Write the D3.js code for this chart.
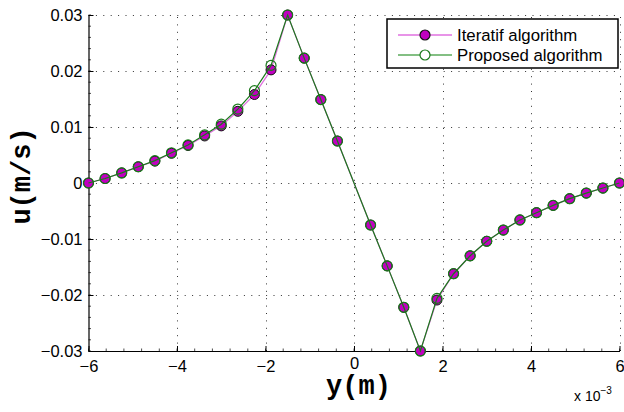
<!DOCTYPE html>
<html>
<head>
<meta charset="utf-8">
<script src="https://cdn.jsdelivr.net/npm/d3@7"></script>
<style>
  body { margin: 0; background: #fff; }
  svg { display: block; }
</style>
</head>
<body>
<svg id="chart" width="624" height="412"></svg>
<script>
// Position across the channel, in units of 1e-3 m
const yPositions = [-6, -5.625, -5.25, -4.875, -4.5, -4.125, -3.75, -3.375, -3, -2.625, -2.25, -1.875,
  -1.5, -1.125, -0.75, -0.375, 0.375, 0.75, 1.125, 1.5, 1.875, 2.25, 2.625, 3, 3.375, 3.75,
  4.125, 4.5, 4.875, 5.25, 5.625, 6];

// Velocity u (m/s) from the iterative solver
const iteratifU = [0, 0.0008, 0.0018, 0.0029, 0.0039, 0.0053, 0.0067, 0.0084, 0.0102, 0.0128, 0.0158, 0.0202,
  0.0300, 0.0223, 0.0149, 0.0075, -0.0075, -0.0148, -0.0222, -0.0300, -0.0209, -0.0162, -0.0130, -0.0104,
  -0.0084, -0.0066, -0.0053, -0.0040, -0.0028, -0.0018, -0.0009, 0];

// Velocity u (m/s) from the proposed solver
const proposedU = [0, 0.0008, 0.0018, 0.0029, 0.0040, 0.0054, 0.0068, 0.0086, 0.0105, 0.0132, 0.0165, 0.0210,
  0.0300, 0.0223, 0.0149, 0.0075, -0.0075, -0.0148, -0.0222, -0.0300, -0.0206, -0.0162, -0.0130, -0.0104,
  -0.0084, -0.0066, -0.0053, -0.0040, -0.0028, -0.0018, -0.0009, 0];

const xTicks = [-6, -4, -2, 0, 2, 4, 6];
const yTicks = [-0.03, -0.02, -0.01, 0, 0.01, 0.02, 0.03];
const seriesNames = ["Iteratif algorithm", "Proposed algorithm"];

const svg = d3.select("#chart");
const plotL = 88.5, plotR = 619.5, plotT = 15, plotB = 351;

const x = d3.scaleLinear().domain([-6, 6]).range([plotL, plotR]);
const y = d3.scaleLinear().domain([-0.03, 0.03]).range([plotB, plotT]);

const fmtY = d => d === 0 ? "0" : d3.format(".2f")(d).replace("-", "\u2212");
const fmtX = d => String(d).replace("-", "\u2212");
const sans = "Liberation Sans, Arial, sans-serif";
const mono = "Liberation Mono, Courier New, monospace";

// dotted grid
const grid = svg.append("g").attr("stroke", "#333").attr("stroke-width", 1)
  .attr("stroke-dasharray", "1,6.4");
grid.selectAll("line.v").data(xTicks.slice(1)).join("line")
  .attr("x1", d => Math.round(x(d)) + 0.5).attr("x2", d => Math.round(x(d)) + 0.5)
  .attr("y1", plotB).attr("y2", plotT);
grid.selectAll("line.h").data(yTicks).join("line")
  .attr("y1", d => Math.round(y(d)) + 0.5).attr("y2", d => Math.round(y(d)) + 0.5)
  .attr("x1", plotL).attr("x2", plotR);

// axes (left and bottom only)
const xAxis = d3.axisBottom(x).tickValues(xTicks).tickSizeInner(-5).tickSizeOuter(0).tickPadding(9).tickFormat(fmtX);
const yAxis = d3.axisLeft(y).tickValues(yTicks).tickSizeInner(-5).tickSizeOuter(0).tickPadding(6).tickFormat(fmtY);

const gx = svg.append("g").attr("transform", `translate(0,${plotB})`).call(xAxis);
const gy = svg.append("g").attr("transform", `translate(${plotL},0)`).call(yAxis);
[gx, gy].forEach(g => {
  g.select(".domain").attr("stroke", "#000").attr("stroke-width", 1.2);
  g.selectAll(".tick line").attr("stroke", "#000");
  g.selectAll(".tick text").attr("fill", "#000")
    .style("font-family", sans).style("font-size", "16.5px");
});
// the centre label sits a little higher, clear of the axis title
gx.selectAll(".tick").filter(d => d === 0).select("text").attr("y", 6.5);

// minor ticks
const minor = svg.append("g").attr("stroke", "#000").attr("stroke-width", 0.7);
minor.selectAll("line.mx").data(d3.range(-6, 6.001, 0.4)).join("line")
  .attr("x1", d => x(d)).attr("x2", d => x(d)).attr("y1", plotB).attr("y2", plotB - 2.5);
minor.selectAll("line.my").data(d3.range(-0.03, 0.03001, 0.002)).join("line")
  .attr("y1", d => y(d)).attr("y2", d => y(d)).attr("x1", plotL).attr("x2", plotL + 2.5);

const iterPts = yPositions.map((p, i) => [p, iteratifU[i]]);
const propPts = yPositions.map((p, i) => [p, proposedU[i]]);
const line = d3.line().x(d => x(d[0])).y(d => y(d[1]));

const magentaLine = "#e070e0", magentaFill = "#c000c0", green = "#1a7a1a";

svg.append("path").datum(iterPts).attr("d", line)
  .attr("fill", "none").attr("stroke", magentaLine).attr("stroke-width", 1.2);
svg.append("g").selectAll("circle").data(iterPts).join("circle")
  .attr("cx", d => x(d[0])).attr("cy", d => y(d[1])).attr("r", 5)
  .attr("fill", magentaFill).attr("stroke", "#111").attr("stroke-width", 1);

svg.append("path").datum(propPts).attr("d", line)
  .attr("fill", "none").attr("stroke", green).attr("stroke-width", 1.2);
svg.append("g").selectAll("circle").data(propPts).join("circle")
  .attr("cx", d => x(d[0])).attr("cy", d => y(d[1])).attr("r", 5)
  .attr("fill", "none").attr("stroke", green).attr("stroke-width", 1.2);

// legend
const lg = svg.append("g");
lg.append("rect").attr("x", 387).attr("y", 19).attr("width", 231).attr("height", 49)
  .attr("fill", "#fff").attr("stroke", "#000").attr("stroke-width", 1.5);
const rows = [
  { name: seriesNames[0], line: magentaLine, fill: magentaFill, edge: "#111", cy: 35 },
  { name: seriesNames[1], line: "#5aaa5a", fill: "#fff", edge: green, cy: 55 }
];
rows.forEach(r => {
  lg.append("line").attr("x1", 398).attr("x2", 452).attr("y1", r.cy).attr("y2", r.cy)
    .attr("stroke", r.line).attr("stroke-width", 1.5);
  lg.append("circle").attr("cx", 425).attr("cy", r.cy).attr("r", 5)
    .attr("fill", r.fill).attr("stroke", r.edge).attr("stroke-width", 1.2);
  lg.append("text").attr("x", 457).attr("y", r.cy + 6).text(r.name)
    .style("font-family", sans).style("font-size", "16.8px").attr("fill", "#000");
});

// axis titles
svg.append("text").attr("x", 358.5).attr("y", 394).attr("text-anchor", "middle")
  .style("font-family", mono).style("font-weight", "bold").style("font-size", "27px")
  .text("y(m)");
svg.append("text").attr("transform", "translate(30,176) rotate(-90)").attr("text-anchor", "middle")
  .style("font-family", mono).style("font-weight", "bold").style("font-size", "27px")
  .text("u(m/s)");

// exponent note
const ex = svg.append("text").attr("x", 574).attr("y", 401)
  .style("font-family", sans).style("font-size", "14px");
ex.append("tspan").text("x 10");
ex.append("tspan").attr("dy", -7).style("font-size", "10px").text("\u22123");
</script>
</body>
</html>
